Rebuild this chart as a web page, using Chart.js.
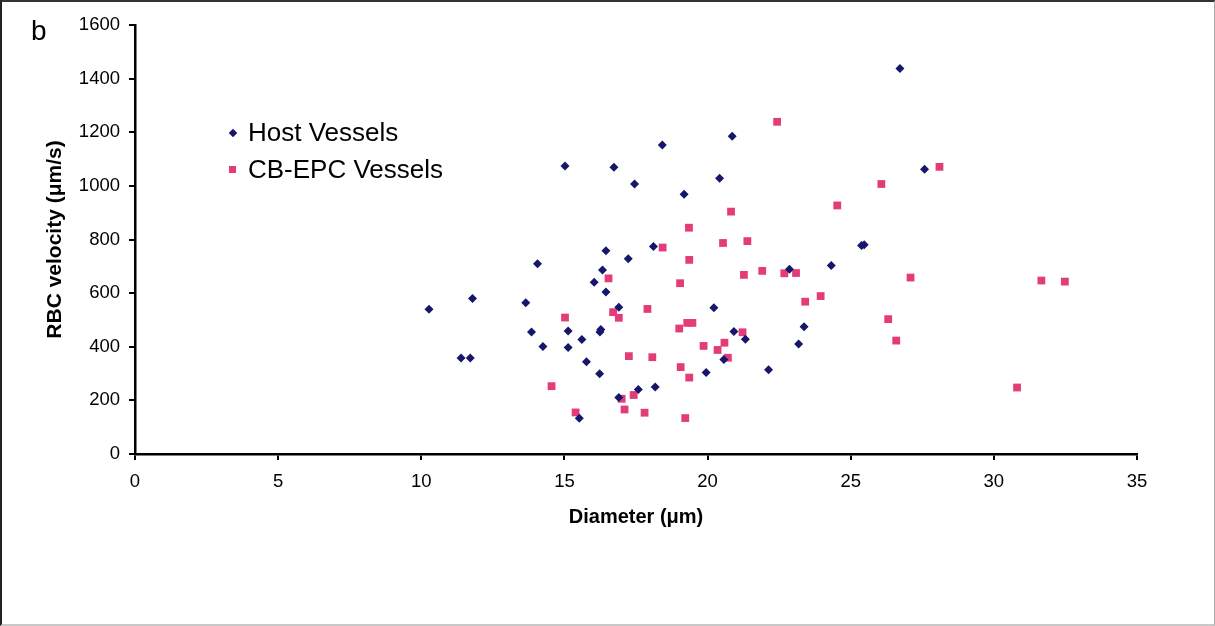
<!DOCTYPE html>
<html>
<head>
<meta charset="utf-8">
<script src="https://cdn.jsdelivr.net/npm/chart.js@4.4.0/dist/chart.umd.min.js"></script>
<style>
  html, body { margin: 0; padding: 0; background: #fff; }
  #wrap { position: relative; width: 1215px; height: 626px; font-family: "Liberation Sans", Arial, sans-serif; color: #000; }
  #frame { position: absolute; left: 0; top: 0; width: 1215px; height: 626px; box-sizing: border-box;
           border-left: 2px solid #222; border-top: 2px solid #333; border-right: 1px solid #aaa; border-bottom: 2px solid #c8c8c8; pointer-events: none; }
  #panel { position: absolute; left: 31px; top: 17px; font-size: 28px; line-height: 28px; }
  #legend { position: absolute; left: 229px; top: 114px; font-size: 26px; line-height: 37px; }
  .row { display: flex; align-items: center; height: 37px; }
  .key { width: 7px; height: 7px; margin-right: 12px; }
  .key.diamond { width: 6px; height: 6px; transform: rotate(45deg); margin-left: 0.5px; margin-right: 12.5px; }
</style>
</head>
<body>
<div id="wrap">
  <canvas id="scatter" width="1215" height="626"></canvas>
  <div id="panel">b</div>
  <div id="legend"></div>
  <div id="frame"></div>
</div>
<script>
// Host vessels: diameter (um) and RBC velocity (um/s)
const hostDiameter = [10.27, 11.39, 11.71, 11.79, 13.65, 13.85, 14.06, 14.25, 15.02, 15.13, 15.13, 15.52,
  15.61, 15.77, 16.04, 16.23, 16.24, 16.27, 16.33, 16.45, 16.45, 16.73, 16.9, 16.9, 17.23, 17.45, 17.58,
  18.11, 18.17, 18.42, 19.18, 19.95, 20.22, 20.42, 20.57, 20.86, 20.92, 21.32, 22.13, 22.86, 23.18, 23.37,
  24.32, 25.38, 25.47, 26.72, 27.58];
const hostVelocity = [540, 358, 358, 580, 564, 455, 710, 401, 1074, 459, 397, 133,
  427, 344, 641, 299, 455, 464, 686, 758, 604, 1069, 547, 211, 728, 1007, 241,
  774, 250, 1152, 969, 304, 545, 1028, 352, 1185, 457, 428, 314, 689, 410, 475,
  703, 778, 780, 1438, 1062];

// CB-EPC vessels
const epcDiameter = [14.55, 15.02, 15.39, 16.54, 16.7, 16.9, 17.0, 17.1, 17.25, 17.42, 17.8, 17.9, 18.07,
  18.43, 19.01, 19.04, 19.06, 19.22, 19.29, 19.35, 19.36, 19.36, 19.47, 19.86, 20.35, 20.54, 20.59, 20.71,
  20.82, 21.22, 21.27, 21.39, 21.91, 22.43, 22.68, 23.09, 23.41, 23.95, 24.53, 26.07, 26.31, 26.59, 27.09,
  28.1, 30.81, 31.66, 32.48];
const epcVelocity = [253, 509, 155, 655, 529, 508, 206, 166, 365, 220, 154, 541, 361,
  770, 468, 637, 324, 134, 489, 844, 724, 285, 489, 403, 388, 787, 415, 359,
  904, 454, 668, 794, 683, 1239, 674, 675, 568, 589, 927, 1007, 503, 423, 658,
  1071, 248, 647, 643];

const diameterTicks = [0, 5, 10, 15, 20, 25, 30, 35];
const velocityTicks = [0, 200, 400, 600, 800, 1000, 1200, 1400, 1600];

const navy = "#16166a";
const pink = "#e33c78";

Chart.defaults.font.family = '"Liberation Sans", Arial, sans-serif';
Chart.defaults.color = "#000";

const pairs = (xs, ys) => xs.map((x, i) => ({ x: x, y: ys[i] }));

const datasets = [
  { label: "Host Vessels", data: pairs(hostDiameter, hostVelocity), pointStyle: "rectRot", pointRadius: 4.5,
    backgroundColor: navy, borderWidth: 0, keyClass: "diamond" },
  { label: "CB-EPC Vessels", data: pairs(epcDiameter, epcVelocity), pointStyle: "rect", pointRadius: 5.5,
    backgroundColor: pink, borderWidth: 0, keyClass: "square" }
];

const chart = new Chart(document.getElementById("scatter"), {
  type: "scatter",
  data: { datasets: datasets },
  options: {
    responsive: false,
    animation: false,
    events: [],
    layout: { padding: { left: 0, top: 25, right: 78, bottom: 0 } },
    plugins: { legend: { display: false }, tooltip: { enabled: false } },
    scales: {
      x: {
        type: "linear",
        min: diameterTicks[0],
        max: diameterTicks[diameterTicks.length - 1],
        afterBuildTicks: s => { s.ticks = diameterTicks.map(v => ({ value: v })); },
        afterFit: s => { s.height = 172; },
        border: { color: "#000", width: 2.5 },
        grid: { drawOnChartArea: false, tickLength: 6, color: "#000", lineWidth: 2 },
        ticks: { font: { size: 18.5 }, padding: 11, color: "#000", callback: v => String(v) },
        title: { display: true, text: "Diameter (μm)", color: "#000",
                 font: { size: 20, weight: "bold" }, padding: { top: 0, bottom: 97 } }
      },
      y: {
        type: "linear",
        min: velocityTicks[0],
        max: velocityTicks[velocityTicks.length - 1],
        afterBuildTicks: s => { s.ticks = velocityTicks.map(v => ({ value: v })); },
        afterFit: s => { s.width = 135; },
        border: { color: "#000", width: 2.5 },
        grid: { drawOnChartArea: false, tickLength: 6, color: "#000", lineWidth: 2 },
        ticks: { font: { size: 18.5 }, padding: 9, color: "#000", callback: v => String(v) },
        title: { display: true, text: "RBC velocity (μm/s)", color: "#000",
                 font: { size: 21, weight: "bold" }, padding: { top: 43, bottom: 0 } }
      }
    }
  }
});

// legend built from the datasets, placed inside the plot like the original
const legend = document.getElementById("legend");
chart.data.datasets.forEach(ds => {
  const row = document.createElement("div");
  row.className = "row";
  const key = document.createElement("span");
  key.className = "key " + ds.keyClass;
  key.style.background = ds.backgroundColor;
  const label = document.createElement("span");
  label.textContent = ds.label;
  row.appendChild(key);
  row.appendChild(label);
  legend.appendChild(row);
});
</script>
</body>
</html>
